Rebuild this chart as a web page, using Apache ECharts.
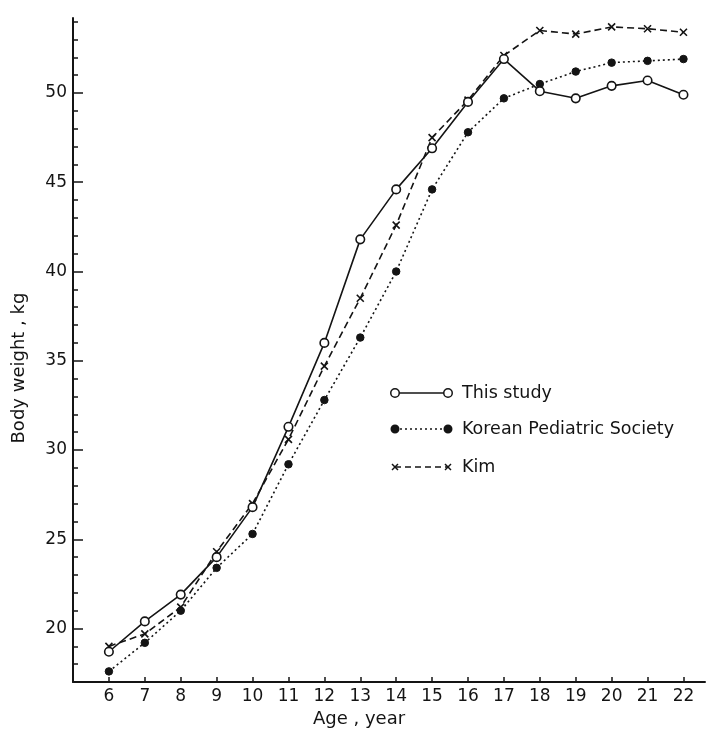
<!DOCTYPE html>
<html>
<head>
<meta charset="utf-8">
<script src="https://cdn.jsdelivr.net/npm/echarts@6/dist/echarts.min.js"></script>
<style>
html,body{margin:0;padding:0;background:#fff;}
#c{width:709px;height:733px;}
</style>
</head>
<body>
<div id="c"></div>
<script>
// ---- data ----
const ages = [6,7,8,9,10,11,12,13,14,15,16,17,18,19,20,21,22];
const thisStudy = [18.7,20.4,21.9,24.0,26.8,31.3,36.0,41.8,44.6,46.9,49.5,51.9,50.1,49.7,50.4,50.7,49.9];
const koreanPediatric = [17.6,19.2,21.0,23.4,25.3,29.2,32.8,36.3,40.0,44.6,47.8,49.7,50.5,51.2,51.7,51.8,51.9];
const kim = [19.0,19.7,21.2,24.3,27.0,30.6,34.7,38.5,42.6,47.5,49.6,52.1,53.5,53.3,53.7,53.6,53.4];
const yLabelTicks = [20,25,30,35,40,45,50];
const yMinorTicks = [18,19,20,21,22,23,24,25,26,27,28,29,30,31,32,33,34,35,36,37,38,39,40,41,42,43,44,45,46,47,48,49,50,51,52,53,54];
const seriesNames = ['This study','Korean Pediatric Society','Kim'];

const ink = '#141414';
const FONT = 'DejaVu Sans';
const xSymbol = 'path://M0,0L10,10M10,0L0,10';

function pairs(arr){ return ages.map((a,i)=>[a,arr[i]]); }

const chart = echarts.init(document.getElementById('c'), null, {renderer:'canvas'});

const legendRows = [
  {y:393, name:seriesNames[0], symbol:'circle', fill:'#fff', dash:'solid', size:8.5},
  {y:429, name:seriesNames[1], symbol:'circle', fill:ink, dash:[2,3], size:7.5},
  {y:467, name:seriesNames[2], symbol:'x', fill:ink, dash:[6,4], size:7}
];
const graphics = [];
legendRows.forEach(r=>{
  graphics.push({type:'line', shape:{x1:395,y1:r.y,x2:448,y2:r.y}, style:{stroke:ink, lineWidth:1.5, lineDash:r.dash}});
  [395,448].forEach(cx=>{
    if(r.symbol==='circle'){
      graphics.push({type:'circle', shape:{cx:cx,cy:r.y,r:r.size/2}, style:{fill:r.fill, stroke:ink, lineWidth:1.5}});
    } else {
      const h=3;
      graphics.push({type:'polyline', shape:{points:[[cx-h,r.y-h],[cx+h,r.y+h]]}, style:{stroke:ink,lineWidth:1.5}});
      graphics.push({type:'polyline', shape:{points:[[cx+h,r.y-h],[cx-h,r.y+h]]}, style:{stroke:ink,lineWidth:1.5}});
    }
  });
  graphics.push({type:'text', x:462, y:r.y, style:{text:r.name, fill:ink, font:'17.5px "'+FONT+'"', verticalAlign:'middle', textAlign:'left'}});
});

const option = {
  backgroundColor:'#fff',
  animation:false,
  grid:{left:73, right:4, top:18, bottom:46, containLabel:false},
  xAxis:{
    type:'value', min:5, max:22.6,
    name:'Age , year', nameLocation:'middle', nameGap:23,
    nameTextStyle:{fontFamily:FONT, fontSize:18, color:ink, padding:[0,60,0,0]},
    axisLine:{lineStyle:{color:ink, width:2}},
    axisTick:{inside:true, length:5, lineStyle:{color:ink, width:1.5}, customValues:ages},
    axisLabel:{customValues:ages, margin:6, fontFamily:FONT, fontSize:17, color:ink},
    splitLine:{show:false}
  },
  yAxis:[{
    type:'value', min:17, max:54.2,
    name:'Body weight , kg', nameLocation:'middle', nameGap:45, nameRotate:90,
    nameTextStyle:{fontFamily:FONT, fontSize:18, color:ink, padding:[0,36,0,0]},
    axisLine:{lineStyle:{color:ink, width:2}},
    axisTick:{inside:true, length:10, lineStyle:{color:ink, width:1.5}, customValues:yLabelTicks},
    axisLabel:{customValues:yLabelTicks, margin:6, fontFamily:FONT, fontSize:17, color:ink},
    splitLine:{show:false}
  },{
    type:'value', min:17, max:54.2, position:'left',
    axisLine:{show:false},
    axisTick:{show:true, inside:true, length:5, lineStyle:{color:ink, width:1.5}, customValues:yMinorTicks},
    axisLabel:{show:false},
    splitLine:{show:false}
  }],
  series:[
    {name:seriesNames[0], type:'line', data:pairs(thisStudy), symbol:'circle', symbolSize:8.5,
     lineStyle:{color:ink, width:1.6, type:'solid'},
     itemStyle:{color:'#fff', borderColor:ink, borderWidth:1.6}, z:3},
    {name:seriesNames[1], type:'line', data:pairs(koreanPediatric), symbol:'circle', symbolSize:7.5,
     lineStyle:{color:ink, width:1.6, type:[2,3]},
     itemStyle:{color:ink, borderColor:ink, borderWidth:1}, z:2},
    {name:seriesNames[2], type:'line', data:pairs(kim), symbol:xSymbol, symbolSize:7,
     lineStyle:{color:ink, width:1.6, type:[7,4]},
     itemStyle:{color:'none', borderColor:ink, borderWidth:1.6}, z:2}
  ],
  graphic:graphics
};
chart.setOption(option);
</script>
</body>
</html>
